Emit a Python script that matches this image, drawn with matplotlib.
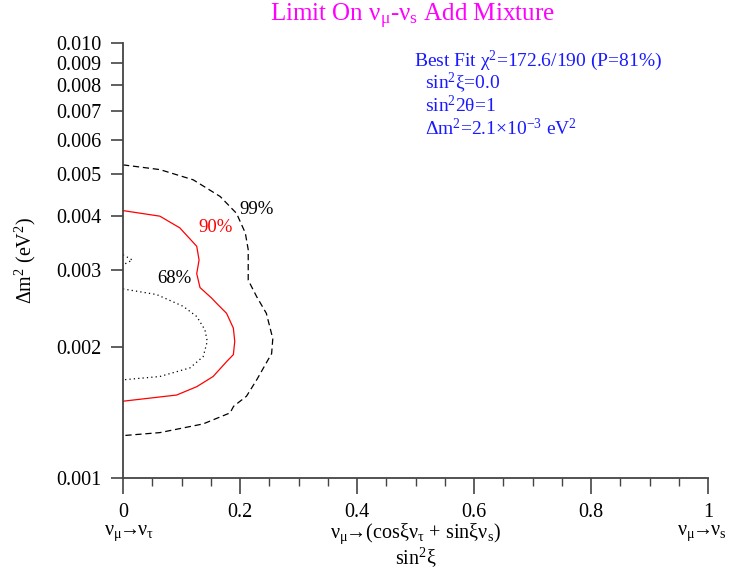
import matplotlib
matplotlib.use("Agg")
import matplotlib.pyplot as plt
import matplotlib.transforms as mtransforms

plt.rcParams['font.family'] = ['Liberation Serif', 'DejaVu Serif']
plt.rcParams['mathtext.fontset'] = 'stix'
plt.rcParams['mathtext.default'] = 'regular'

# contour lines: sin^2(xi), dm^2 (eV^2)
x99 = [0.0, 0.063, 0.12, 0.166, 0.194, 0.209, 0.214, 0.214, 0.2285, 0.245, 0.256,
       0.254, 0.251, 0.2285, 0.211, 0.189, 0.183, 0.137, 0.063, 0.0]
y99 = [0.00525, 0.00512, 0.00485, 0.00444, 0.00406, 0.00366, 0.00335, 0.00285, 0.00261,
       0.00239, 0.00209, 0.00193, 0.0019, 0.00168, 0.00154, 0.00146, 0.00141, 0.00133,
       0.00127, 0.00125]

x90 = [0.0, 0.063, 0.097, 0.126, 0.130, 0.126, 0.1316, 0.1516, 0.160, 0.177, 0.1886,
       0.191, 0.1886, 0.177, 0.154, 0.126, 0.0917, 0.0]
y90 = [0.00412, 0.00400, 0.00376, 0.00341, 0.00317, 0.00295, 0.00274, 0.00259, 0.00252,
       0.00239, 0.00221, 0.00206, 0.00192, 0.00185, 0.00171, 0.00162, 0.00155, 0.0015]

x68 = [0.0, 0.0575, 0.103, 0.126, 0.14, 0.144, 0.137, 0.1145, 0.063, 0.0]
y68 = [0.00272, 0.00264, 0.00248, 0.00235, 0.00219, 0.00206, 0.0019, 0.00179, 0.00171,
       0.00168]

x68b = [0.0, 0.016, 0.0]
y68b = [0.00326, 0.00317, 0.00309]

yticks = [0.001, 0.002, 0.003, 0.004, 0.005, 0.006, 0.007, 0.008, 0.009, 0.010]
xticks = [0, 0.2, 0.4, 0.6, 0.8, 1]
xtick_labels = ['0', '0.2', '0.4', '0.6', '0.8', '1']

fs = 14.5
fig = plt.figure(figsize=(7.3, 5.75), dpi=100)
ax = fig.add_axes([0.1685, 0.1692, 0.8015, 0.7555])

ax.plot(x99, y99, color='black', lw=0.9, dashes=(5, 3))
ax.plot(x90, y90, color='red', lw=0.9)
ax.plot(x68, y68, color='black', lw=0.9, dashes=(1, 2.5))
ax.plot(x68b, y68b, color='black', lw=0.9, dashes=(1, 2.5))

ax.text(0.2285, 0.00415, '99%', fontsize=13.5, ha='center', va='center')
ax.text(0.159, 0.00377, '90%', fontsize=13.5, color='red', ha='center', va='center')
ax.text(0.0885, 0.00288, '68%', fontsize=13.5, ha='center', va='center')

ax.set_yscale('log')
ax.set_xlim(0, 1)
ax.set_ylim(0.001, 0.010)
ax.set_yticks(yticks)
ax.set_yticklabels(['%.3f' % v for v in yticks])
ax.yaxis.set_minor_locator(plt.NullLocator())
ax.set_xticks(xticks)
ax.set_xticklabels(xtick_labels)
ax.set_xticks([i * 0.05 for i in range(21)], minor=True)

for s in ['top', 'right']:
    ax.spines[s].set_visible(False)
for s in ['left', 'bottom']:
    ax.spines[s].set_color('#444444')
    ax.spines[s].set_linewidth(1.3)
ax.tick_params(axis='y', which='major', direction='out', length=8.6, width=1.2,
               color='#444444', labelsize=fs, pad=7)
ax.tick_params(axis='x', which='major', direction='out', length=11.5, width=1.2,
               color='#444444', labelsize=fs, pad=7)
ax.tick_params(axis='x', which='minor', direction='out', length=5.8, width=1.0,
               color='#444444')

ax.set_ylabel(r'$\Delta$m$^2$ (eV$^2$)', fontsize=fs)
ax.yaxis.set_label_coords(-0.145, 0.5)

trans = mtransforms.blended_transform_factory(ax.transData, ax.transAxes)
ax.text(0.01, -0.129, r'$\nu_\mu\!\!\rightarrow\!\!\nu_\tau$', transform=trans,
        fontsize=fs, ha='center', va='center')
ax.text(0.5, -0.129, r'$\nu_\mu\!\!\rightarrow\!$(cos$\xi\nu_\tau$ + sin$\xi\nu_s$)',
        transform=trans, fontsize=fs, ha='center', va='center')
ax.text(0.99, -0.129, r'$\nu_\mu\!\!\rightarrow\!\!\nu_s$', transform=trans,
        fontsize=fs, ha='center', va='center')
ax.text(0.5, -0.184, r'sin$^2\xi$', transform=trans, fontsize=fs,
        ha='center', va='center')

fig.text(0.565, 0.972, r'Limit On $\nu_\mu$-$\nu_s$ Add Mixture', color='magenta',
         fontsize=18, ha='center', va='center')

info_c = '#1a1aff'
ax.text(0.497, 0.96, r'Best Fit $\chi^2$=172.6/190 (P=81%)', transform=ax.transAxes,
        color=info_c, fontsize=14, va='center')
ax.text(0.517, 0.909, r'sin$^2\xi$=0.0', transform=ax.transAxes,
        color=info_c, fontsize=14, va='center')
ax.text(0.517, 0.857, r'sin$^2$2$\theta$=1', transform=ax.transAxes,
        color=info_c, fontsize=14, va='center')
ax.text(0.517, 0.804, r'$\Delta$m$^2$=2.1$\times$10$^{-3}$ eV$^2$', transform=ax.transAxes,
        color=info_c, fontsize=14, va='center')

fig.savefig('out.png', dpi=100)
